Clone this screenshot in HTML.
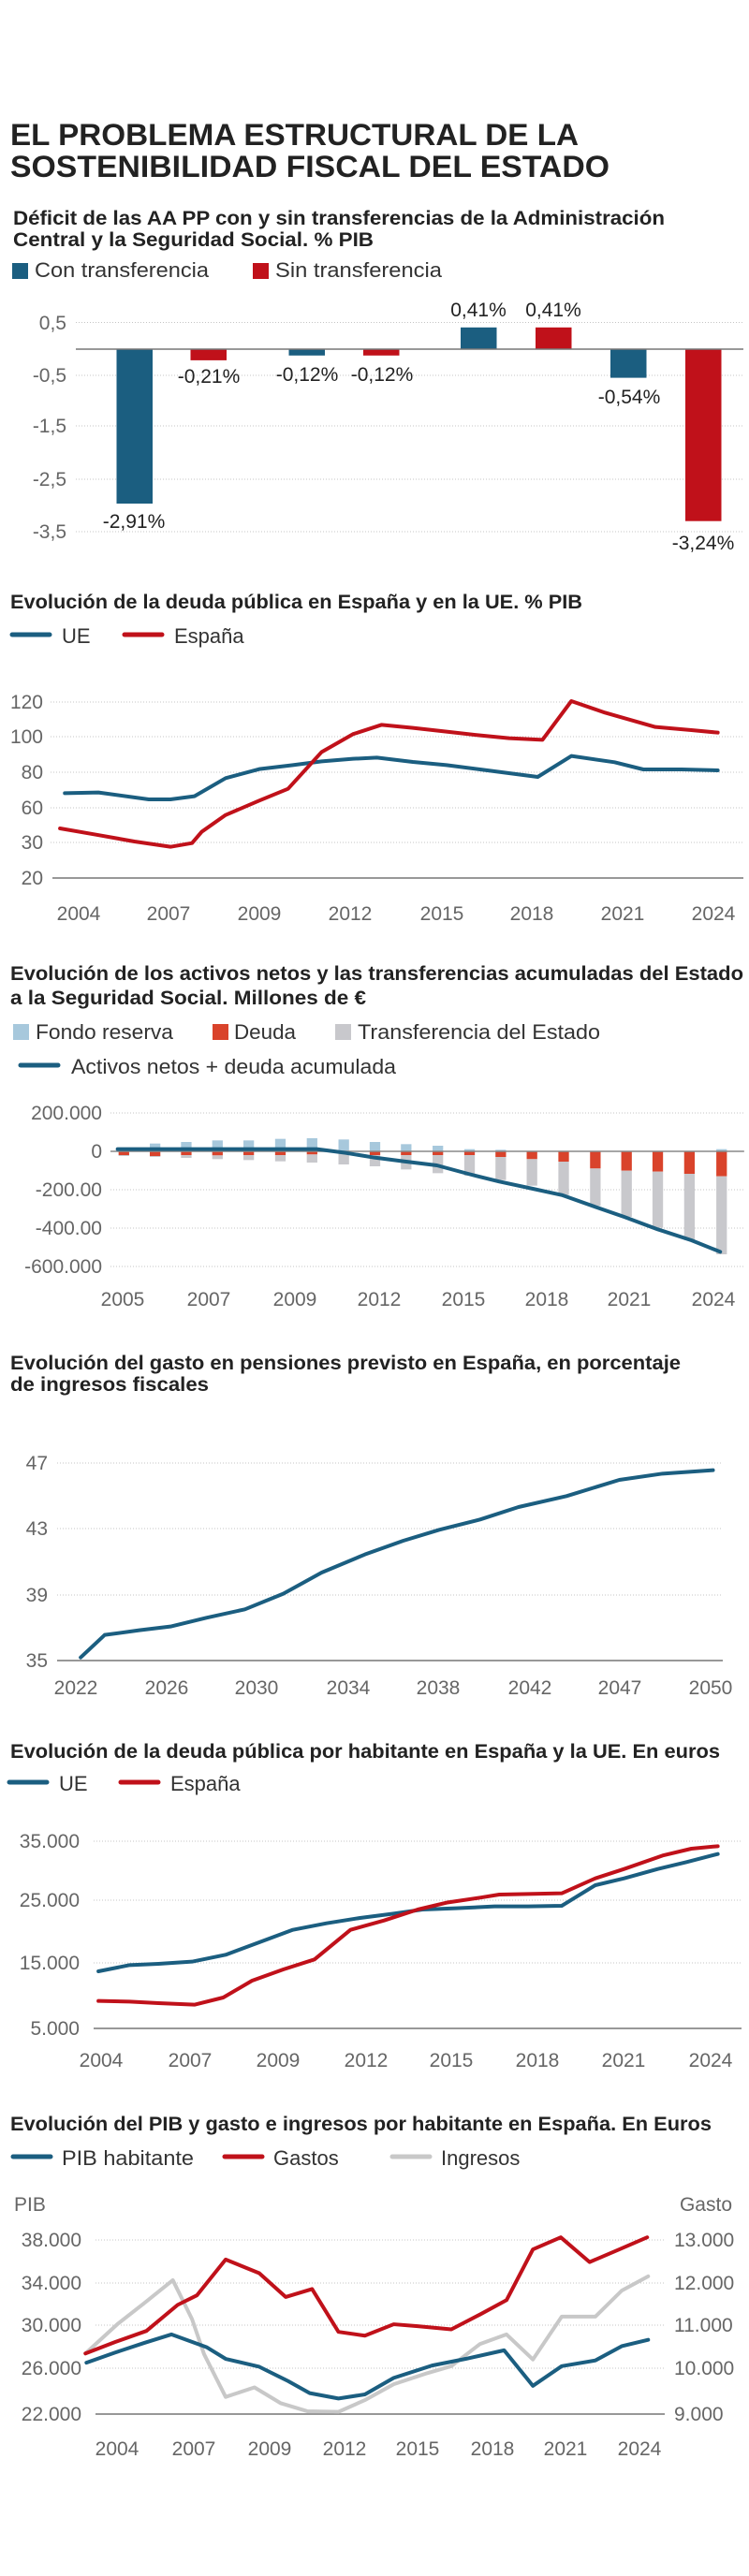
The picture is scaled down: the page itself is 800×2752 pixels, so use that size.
<!DOCTYPE html>
<html><head><meta charset="utf-8"><style>
html,body{margin:0;padding:0;background:#fff}
svg{display:block}
text{font-family:"Liberation Sans Narrow","Liberation Sans",sans-serif}
.t{font-weight:bold;fill:#222}
.ax{fill:#666;font-size:21px}
.lg{fill:#333;font-size:22px}
.vl{fill:#222;font-size:21px}
.g{stroke:#c4c4c4;stroke-width:1;stroke-dasharray:1 2}
.b{stroke:#777;stroke-width:1.5}
.ln{fill:none;stroke-width:4;stroke-linejoin:round;stroke-linecap:round;vector-effect:non-scaling-stroke}
</style></head><body>
<svg width="800" height="2752" viewBox="0 0 800 2752" xmlns="http://www.w3.org/2000/svg">
<!-- Main title -->
<text class="t" x="11" y="155" font-size="32" textLength="607" lengthAdjust="spacingAndGlyphs">EL PROBLEMA ESTRUCTURAL DE LA</text>
<text class="t" x="11" y="189" font-size="32" textLength="640" lengthAdjust="spacingAndGlyphs">SOSTENIBILIDAD FISCAL DEL ESTADO</text>

<!-- Chart 1 -->
<text class="t" x="14" y="240" font-size="21" textLength="696" lengthAdjust="spacingAndGlyphs">Déficit de las AA PP con y sin transferencias de la Administración</text>
<text class="t" x="14" y="263" font-size="21" textLength="385" lengthAdjust="spacingAndGlyphs">Central y la Seguridad Social. % PIB</text>
<rect x="13" y="281" width="17" height="17" fill="#1b5e80"/>
<text class="lg" x="37" y="296" textLength="186" lengthAdjust="spacingAndGlyphs">Con transferencia</text>
<rect x="270" y="281" width="17" height="17" fill="#c0111a"/>
<text class="lg" x="294" y="296" textLength="178" lengthAdjust="spacingAndGlyphs">Sin transferencia</text>
<g>
<line class="g" x1="81" x2="794" y1="344.5" y2="344.5"/>
<line class="g" x1="81" x2="794" y1="401" y2="401"/>
<line class="g" x1="81" x2="794" y1="455" y2="455"/>
<line class="g" x1="81" x2="794" y1="512" y2="512"/>
<line class="g" x1="81" x2="794" y1="568" y2="568"/>
<g class="ax" text-anchor="end">
<text x="71" y="352">0,5</text><text x="71" y="408">-0,5</text><text x="71" y="462">-1,5</text><text x="71" y="519">-2,5</text><text x="71" y="575">-3,5</text>
</g>
<rect x="124.5" y="373" width="38.5" height="165" fill="#1b5e80"/>
<rect x="203.5" y="373" width="38.5" height="11.9" fill="#c0111a"/>
<rect x="308.5" y="373" width="38.5" height="6.8" fill="#1b5e80"/>
<rect x="388" y="373" width="38.5" height="6.8" fill="#c0111a"/>
<rect x="492" y="349.8" width="38.5" height="23.2" fill="#1b5e80"/>
<rect x="572" y="349.8" width="38.5" height="23.2" fill="#c0111a"/>
<rect x="652" y="373" width="38.5" height="30.6" fill="#1b5e80"/>
<rect x="732" y="373" width="38.5" height="183.7" fill="#c0111a"/>
<line class="b" x1="81" x2="794" y1="373" y2="373"/>
<g class="vl" text-anchor="middle">
<text x="143" y="564">-2,91%</text><text x="223" y="409">-0,21%</text><text x="328" y="407">-0,12%</text><text x="408" y="407">-0,12%</text>
<text x="511" y="338">0,41%</text><text x="591" y="338">0,41%</text><text x="672" y="431">-0,54%</text><text x="751" y="587">-3,24%</text>
</g>
</g>

<!-- Chart 2 -->
<text class="t" x="11" y="650" font-size="21" textLength="611" lengthAdjust="spacingAndGlyphs">Evolución de la deuda pública en España y en la UE. % PIB</text>
<line x1="13" x2="53" y1="678" y2="678" stroke="#1b5e80" stroke-width="5" stroke-linecap="round"/>
<text class="lg" x="66" y="687">UE</text>
<line x1="133" x2="173" y1="678" y2="678" stroke="#c0111a" stroke-width="5" stroke-linecap="round"/>
<text class="lg" x="186" y="687">España</text>
<line class="g" x1="54" x2="794" y1="750" y2="750"/>
<line class="g" x1="54" x2="794" y1="787" y2="787"/>
<line class="g" x1="54" x2="794" y1="825" y2="825"/>
<line class="g" x1="54" x2="794" y1="863" y2="863"/>
<line class="g" x1="54" x2="794" y1="900" y2="900"/>
<line class="b" x1="56" x2="794" y1="938" y2="938"/>
<g class="ax" text-anchor="end">
<text x="46" y="757">120</text><text x="46" y="794">100</text><text x="46" y="832">80</text><text x="46" y="870">60</text><text x="46" y="907">30</text><text x="46" y="945">20</text>
</g>
<g class="ax" text-anchor="middle" fill="#444">
<text x="84" y="983">2004</text><text x="180" y="983">2007</text><text x="277" y="983">2009</text><text x="374" y="983">2012</text><text x="472" y="983">2015</text><text x="568" y="983">2018</text><text x="665" y="983">2021</text><text x="762" y="983">2024</text>
</g>
<g transform="translate(0,600) scale(0.5128,0.33333)">
<polyline class="ln" stroke="#1b5e80" points="135,742 205,740 310,762 355,762 405,752 470,694 540,665 610,652 670,640 735,632 785,628 860,642 930,652 1000,666 1060,678 1120,690 1190,623 1280,643 1340,666 1420,666 1495,669"/>
<polyline class="ln" stroke="#c0111a" points="125,855 200,875 280,897 355,914 400,902 420,866 470,812 540,766 600,728 670,610 735,553 795,523 860,533 930,545 1000,557 1060,566 1130,571 1190,447 1260,484 1365,530 1440,540 1495,548"/>
</g>

<!-- Chart 3 -->
<text class="t" x="11" y="1047" font-size="21" textLength="783" lengthAdjust="spacingAndGlyphs">Evolución de los activos netos y las transferencias acumuladas del Estado</text>
<text class="t" x="11" y="1073" font-size="21" textLength="380" lengthAdjust="spacingAndGlyphs">a la Seguridad Social. Millones de €</text>
<rect x="14" y="1094" width="17" height="17" fill="#a7c8dc"/>
<text class="lg" x="38" y="1110" textLength="147" lengthAdjust="spacingAndGlyphs">Fondo reserva</text>
<rect x="227" y="1094" width="17" height="17" fill="#d9432b"/>
<text class="lg" x="250" y="1110" textLength="66" lengthAdjust="spacingAndGlyphs">Deuda</text>
<rect x="358" y="1094" width="17" height="17" fill="#c8c8cc"/>
<text class="lg" x="382" y="1110" textLength="259" lengthAdjust="spacingAndGlyphs">Transferencia del Estado</text>
<line x1="22" x2="62" y1="1138" y2="1138" stroke="#1b5e80" stroke-width="5" stroke-linecap="round"/>
<text class="lg" x="76" y="1147" textLength="347" lengthAdjust="spacingAndGlyphs">Activos netos + deuda acumulada</text>
<line class="g" x1="118" x2="794" y1="1189" y2="1189"/>
<line class="g" x1="118" x2="794" y1="1271" y2="1271"/>
<line class="g" x1="118" x2="794" y1="1312" y2="1312"/>
<line class="g" x1="118" x2="794" y1="1353" y2="1353"/>
<g class="ax" text-anchor="end">
<text x="109" y="1196">200.000</text><text x="109" y="1237">0</text><text x="109" y="1278">-200.00</text><text x="109" y="1319">-400.00</text><text x="109" y="1360">-600.000</text>
</g>
<g class="ax" text-anchor="middle" fill="#444">
<text x="131" y="1395">2005</text><text x="223" y="1395">2007</text><text x="315" y="1395">2009</text><text x="405" y="1395">2012</text><text x="495" y="1395">2015</text><text x="584" y="1395">2018</text><text x="672" y="1395">2021</text><text x="762" y="1395">2024</text>
</g>
<g transform="translate(0,1050) scale(0.5128,0.33333)">
<g fill="#a7c8dc">
<rect x="247" y="533" width="22" height="7"/><rect x="312" y="515" width="22" height="25"/><rect x="377" y="510" width="22" height="30"/><rect x="442" y="505" width="22" height="35"/><rect x="507" y="505" width="22" height="35"/><rect x="573" y="500" width="22" height="40"/><rect x="639" y="498" width="22" height="42"/><rect x="705" y="502" width="22" height="38"/><rect x="770" y="510" width="22" height="30"/><rect x="835" y="517" width="22" height="23"/><rect x="901" y="522" width="22" height="18"/><rect x="967" y="533" width="22" height="7"/><rect x="1032" y="535" width="22" height="5"/><rect x="1492" y="533" width="22" height="7"/>
</g>
<g fill="#d9432b">
<rect x="247" y="540" width="22" height="12"/><rect x="312" y="540" width="22" height="15"/><rect x="377" y="540" width="22" height="12"/><rect x="442" y="540" width="22" height="13"/><rect x="507" y="540" width="22" height="12"/><rect x="573" y="540" width="22" height="12"/><rect x="639" y="540" width="22" height="10"/><rect x="770" y="540" width="22" height="12"/><rect x="835" y="540" width="22" height="12"/><rect x="901" y="540" width="22" height="12"/><rect x="967" y="540" width="22" height="12"/><rect x="1032" y="540" width="22" height="18"/><rect x="1097" y="540" width="22" height="25"/><rect x="1163" y="540" width="22" height="33"/><rect x="1229" y="540" width="22" height="55"/><rect x="1294" y="540" width="22" height="62"/><rect x="1359" y="540" width="22" height="65"/><rect x="1425" y="540" width="22" height="72"/><rect x="1492" y="540" width="22" height="80"/>
</g>
<g fill="#c8c8cc">
<rect x="247" y="552" width="22" height="3"/><rect x="312" y="555" width="22" height="3"/><rect x="377" y="552" width="22" height="9"/><rect x="442" y="553" width="22" height="12"/><rect x="507" y="552" width="22" height="16"/><rect x="573" y="552" width="22" height="20"/><rect x="639" y="550" width="22" height="26"/><rect x="705" y="540" width="22" height="42"/><rect x="770" y="552" width="22" height="36"/><rect x="835" y="552" width="22" height="46"/><rect x="901" y="552" width="22" height="58"/><rect x="967" y="552" width="22" height="66"/><rect x="1032" y="558" width="22" height="74"/><rect x="1097" y="565" width="22" height="85"/><rect x="1163" y="573" width="22" height="107"/><rect x="1229" y="595" width="22" height="120"/><rect x="1294" y="602" width="22" height="148"/><rect x="1359" y="605" width="22" height="180"/><rect x="1425" y="612" width="22" height="213"/><rect x="1492" y="620" width="22" height="250"/>
</g>
<line x1="230" x2="1550" y1="540" y2="540" stroke="#888" stroke-width="1.5" vector-effect="non-scaling-stroke"/>
<polyline class="ln" stroke="#1b5e80" points="245,533 660,533 720,545 780,560 840,572 910,585 975,612 1040,637 1110,660 1170,680 1240,718 1300,750 1370,790 1440,825 1500,862"/>
</g>

<!-- Chart 4 -->
<text class="t" x="11" y="1463" font-size="21" textLength="716" lengthAdjust="spacingAndGlyphs">Evolución del gasto en pensiones previsto en España, en porcentaje</text>
<text class="t" x="11" y="1486" font-size="21" textLength="212" lengthAdjust="spacingAndGlyphs">de ingresos fiscales</text>
<line class="g" x1="61" x2="772" y1="1563" y2="1563"/>
<line class="g" x1="61" x2="772" y1="1633" y2="1633"/>
<line class="g" x1="61" x2="772" y1="1704" y2="1704"/>
<line class="b" x1="61" x2="772" y1="1774" y2="1774"/>
<g class="ax" text-anchor="end">
<text x="51" y="1570">47</text><text x="51" y="1640">43</text><text x="51" y="1711">39</text><text x="51" y="1781">35</text>
</g>
<g class="ax" text-anchor="middle" fill="#444">
<text x="81" y="1810">2022</text><text x="178" y="1810">2026</text><text x="274" y="1810">2030</text><text x="372" y="1810">2034</text><text x="468" y="1810">2038</text><text x="566" y="1810">2042</text><text x="662" y="1810">2047</text><text x="759" y="1810">2050</text>
</g>
<g transform="translate(0,1420) scale(0.5128,0.33333)">
<polyline class="ln" stroke="#1b5e80" points="168,1052 218,980 290,965 355,953 430,925 510,898 590,848 670,780 760,722 840,678 915,643 1000,610 1080,570 1180,535 1290,483 1380,463 1485,452"/>
</g>

<!-- Chart 5 -->
<text class="t" x="11" y="1878" font-size="21" textLength="758" lengthAdjust="spacingAndGlyphs">Evolución de la deuda pública por habitante en España y la UE. En euros</text>
<line x1="10" x2="50" y1="1904" y2="1904" stroke="#1b5e80" stroke-width="5" stroke-linecap="round"/>
<text class="lg" x="63" y="1913">UE</text>
<line x1="129" x2="169" y1="1904" y2="1904" stroke="#c0111a" stroke-width="5" stroke-linecap="round"/>
<text class="lg" x="182" y="1913">España</text>
<line class="g" x1="100" x2="792" y1="1967" y2="1967"/>
<line class="g" x1="100" x2="792" y1="2030" y2="2030"/>
<line class="g" x1="100" x2="792" y1="2097" y2="2097"/>
<line class="b" x1="100" x2="792" y1="2167" y2="2167"/>
<g class="ax" text-anchor="end">
<text x="85" y="1974">35.000</text><text x="85" y="2037">25.000</text><text x="85" y="2104">15.000</text><text x="85" y="2174">5.000</text>
</g>
<g class="ax" text-anchor="middle" fill="#444">
<text x="108" y="2208">2004</text><text x="203" y="2208">2007</text><text x="297" y="2208">2009</text><text x="391" y="2208">2012</text><text x="482" y="2208">2015</text><text x="574" y="2208">2018</text><text x="666" y="2208">2021</text><text x="759" y="2208">2024</text>
</g>
<g transform="translate(0,1820) scale(0.5128,0.33333)">
<polyline class="ln" stroke="#1b5e80" points="205,858 270,838 330,834 400,827 470,805 540,765 610,725 680,704 750,687 820,673 880,660 950,656 1030,650 1100,650 1170,648 1240,582 1300,560 1370,530 1430,508 1495,482"/>
<polyline class="ln" stroke="#c0111a" points="205,953 270,955 330,960 405,965 465,942 525,888 590,852 655,820 730,725 800,695 870,660 930,638 1000,622 1040,612 1100,610 1170,608 1240,560 1300,530 1380,487 1440,465 1495,457"/>
</g>

<!-- Chart 6 -->
<text class="t" x="11" y="2276" font-size="21" textLength="749" lengthAdjust="spacingAndGlyphs">Evolución del PIB y gasto e ingresos por habitante en España. En Euros</text>
<line x1="14" x2="54" y1="2304" y2="2304" stroke="#1b5e80" stroke-width="5" stroke-linecap="round"/>
<text class="lg" x="66" y="2313" textLength="141" lengthAdjust="spacingAndGlyphs">PIB habitante</text>
<line x1="240" x2="280" y1="2304" y2="2304" stroke="#c0111a" stroke-width="5" stroke-linecap="round"/>
<text class="lg" x="292" y="2313">Gastos</text>
<line x1="419" x2="459" y1="2304" y2="2304" stroke="#c8c8c8" stroke-width="5" stroke-linecap="round"/>
<text class="lg" x="471" y="2313">Ingresos</text>
<text class="ax" x="15" y="2362">PIB</text>
<text class="ax" x="782" y="2362" text-anchor="end">Gasto</text>
<line class="g" x1="102" x2="710" y1="2393" y2="2393"/>
<line class="g" x1="102" x2="710" y1="2439" y2="2439"/>
<line class="g" x1="102" x2="710" y1="2484" y2="2484"/>
<line class="g" x1="102" x2="710" y1="2530" y2="2530"/>
<line class="b" x1="102" x2="710" y1="2579" y2="2579"/>
<g class="ax" text-anchor="end">
<text x="87" y="2400">38.000</text><text x="87" y="2446">34.000</text><text x="87" y="2491">30.000</text><text x="87" y="2537">26.000</text><text x="87" y="2586">22.000</text>
</g>
<g class="ax">
<text x="720" y="2400">13.000</text><text x="720" y="2446">12.000</text><text x="720" y="2491">11.000</text><text x="720" y="2537">10.000</text><text x="720" y="2586">9.000</text>
</g>
<g class="ax" text-anchor="middle" fill="#444">
<text x="125" y="2623">2004</text><text x="207" y="2623">2007</text><text x="288" y="2623">2009</text><text x="368" y="2623">2012</text><text x="446" y="2623">2015</text><text x="526" y="2623">2018</text><text x="604" y="2623">2021</text><text x="683" y="2623">2024</text>
</g>
<g transform="translate(0,2220) scale(0.5128,0.339)">
<polyline class="ln" stroke="#c8c8c8" points="178,868 245,775 300,710 360,637 400,760 425,870 470,1005 530,975 585,1025 640,1050 705,1052 760,1015 820,965 890,930 940,908 1000,838 1055,808 1110,887 1170,752 1240,752 1295,670 1350,625"/>
<polyline class="ln" stroke="#c0111a" points="178,868 240,832 305,797 370,715 410,685 470,572 540,615 595,690 650,665 705,800 760,812 820,776 870,782 940,792 1000,745 1055,700 1110,540 1168,502 1228,580 1290,540 1348,502"/>
<polyline class="ln" stroke="#1b5e80" points="180,897 240,865 300,835 357,808 430,848 470,885 540,910 600,955 645,993 705,1010 760,997 820,945 900,906 970,885 1050,858 1110,970 1170,908 1240,890 1295,845 1350,825"/>
</g>
</svg>
</body></html>
